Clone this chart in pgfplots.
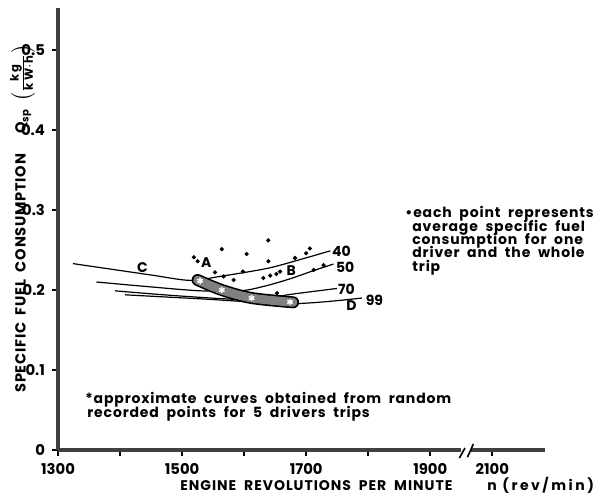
\documentclass[border=0pt]{standalone}
\usepackage{fontspec}
\setmainfont{Poppins}
\usepackage{pgfplots}
\pgfplotsset{compat=1.18}
\newcommand\lbl{\bfseries\fontsize{7}{8}\selectfont}
\newcommand\ylbl{\bfseries\fontsize{7.3}{8}\selectfont\addfontfeatures{LetterSpace=5}}
\newcommand\tlbl{\bfseries\fontsize{7.4}{8}\selectfont}
\newcommand\notefont{\bfseries\fontsize{7}{6.65}\selectfont\addfontfeatures{LetterSpace=6}\lineskiplimit=-\maxdimen\lineskip=0pt}
\newcommand\fracfont{\bfseries\fontsize{5.8}{6}\selectfont\addfontfeatures{LetterSpace=20}}
\begin{document}
\begin{tikzpicture}[x=1pt,y=1pt]
\useasboundingbox (0,0) rectangle (299,250);
\begin{axis}[
  at={(29pt,25pt)}, anchor=south west,
  scale only axis, width=243.5pt, height=221pt,
  xmin=1300, xmax=2085, ymin=0, ymax=0.5525,
  axis x line=bottom, axis y line=left,
  axis line style={-, line width=2pt, black!75},
  xtick={1300,1400,1500,1600,1700,1800,1900,2000},
  xticklabels={1300,,1500,,1700,,1900,2100},
  ytick={0,0.1,0.2,0.3,0.4,0.5},
  yticklabels={0,0.1,0.2,0.3,0.4,0.5},
  tick align=outside, major tick length=3pt,
  tick style={line width=0.8pt, black},
  ticklabel style={font=\tlbl},
  /pgf/number format/assume math mode=true,
  clip=false,
]
% curve C - A - 40
\addplot[smooth, line width=0.6pt] coordinates {
 (1324,0.233) (1448,0.219) (1513,0.212) (1561,0.217) (1637,0.227) (1690,0.238) (1739,0.249)};
% curve 50
\addplot[smooth, line width=0.6pt] coordinates {
 (1362,0.210) (1448,0.204) (1529,0.199) (1594,0.199) (1634,0.205) (1674,0.214) (1711,0.224) (1744,0.2325)};
% curve 70
\addplot[smooth, line width=0.6pt] coordinates {
 (1392,0.199) (1497,0.1925) (1610,0.188) (1679,0.195) (1750,0.202)};
% curve 99 / D
\addplot[smooth, line width=0.6pt] coordinates {
 (1408,0.194) (1529,0.189) (1679,0.183) (1790,0.190)};
% band A - D
\addplot[smooth, line width=6pt, black, line cap=round] coordinates {
 (1525,0.2125) (1564,0.200) (1612,0.190) (1679,0.1846)};
\addplot[smooth, line width=4.4pt, black!50, line cap=round] coordinates {
 (1525,0.2125) (1564,0.200) (1612,0.190) (1679,0.1846)};
\addplot[only marks, mark=asterisk, white, mark size=1.6pt, line width=0.7pt] coordinates {
 (1529,0.2115) (1564,0.200) (1612,0.190) (1674,0.185)};
% recorded points
\addplot[only marks, mark=*, mark size=0.85pt, black] coordinates {
 (1519,0.241) (1525,0.236) (1564,0.251) (1604,0.245) (1639,0.262) (1639,0.236)
 (1682,0.240) (1700,0.246) (1706,0.252) (1553,0.222) (1567,0.217) (1583,0.2125)
 (1598,0.223) (1631,0.215) (1642,0.218) (1652,0.220) (1658,0.223) (1712,0.225)
 (1728,0.231) (1653,0.196)};
% curve labels
\node[font=\lbl] at (axis cs:1436,0.228) {C};
\node[font=\lbl] at (axis cs:1539,0.234) {A};
\node[font=\lbl] at (axis cs:1676,0.224) {B};
\node[font=\lbl] at (axis cs:1773,0.181) {D};
\node[font=\lbl] at (axis cs:1757,0.249) {40};
\node[font=\lbl] at (axis cs:1763,0.228) {50};
\node[font=\lbl] at (axis cs:1765,0.2006) {70};
\node[font=\lbl] at (axis cs:1810,0.1875) {99};
% axis break
\fill[white] (axis cs:1949,-0.006) rectangle (axis cs:1966,0.006);
\draw[line width=0.8pt] (axis cs:1947,-0.01) -- (axis cs:1956,0.0025);
\draw[line width=0.8pt] (axis cs:1960,-0.009) -- (axis cs:1969.5,0.0075);
\end{axis}
% axis titles
\node[rotate=90, anchor=west, inner sep=0pt] at (11.3,53.5)
 {\ylbl SPECIFIC\ \ FUEL\ \ CONSUMPTION\hspace{10pt}Q\raisebox{-1.5pt}{\fontsize{5}{5}\selectfont sp}\hspace{4pt}\raisebox{-0.5pt}{$\left(\frac{\mbox{\fracfont kg}}{\mbox{\fracfont kW$\cdot$h}}\right)$}};
\node[anchor=base west, inner sep=0pt] at (90,5)
 {\lbl\addfontfeatures{LetterSpace=7}ENGINE\ \ REVOLUTIONS\ \ PER\ \ MINUTE};
\node[anchor=base west, inner sep=0pt] at (243.5,5)
 {\lbl\addfontfeatures{LetterSpace=18}n (rev/min)};
% notes (anchored at the baseline of the last line)
\node[anchor=base west, inner sep=0pt, align=left, font=\notefont] at (202.5,114.5)
 {\textbullet each\ \ point\ \ represents\\
  \hspace*{3.5pt}average\ \ specific\ \ fuel\\
  \hspace*{3.5pt}consumption\ \ for\ \ one\\
  \hspace*{3.5pt}driver\ \ and\ \ the\ \ whole\\
  \hspace*{3.5pt}trip};
\node[anchor=base west, inner sep=0pt, align=left, font=\notefont] at (42.5,41.5)
 {*approximate\ \ curves\ \ obtained\ \ from\ \ random\\[0.35pt]
  \hspace*{1pt}recorded\ \ points\ \ for\ \ 5\ \ drivers\ \ trips};
\end{tikzpicture}
\end{document}
